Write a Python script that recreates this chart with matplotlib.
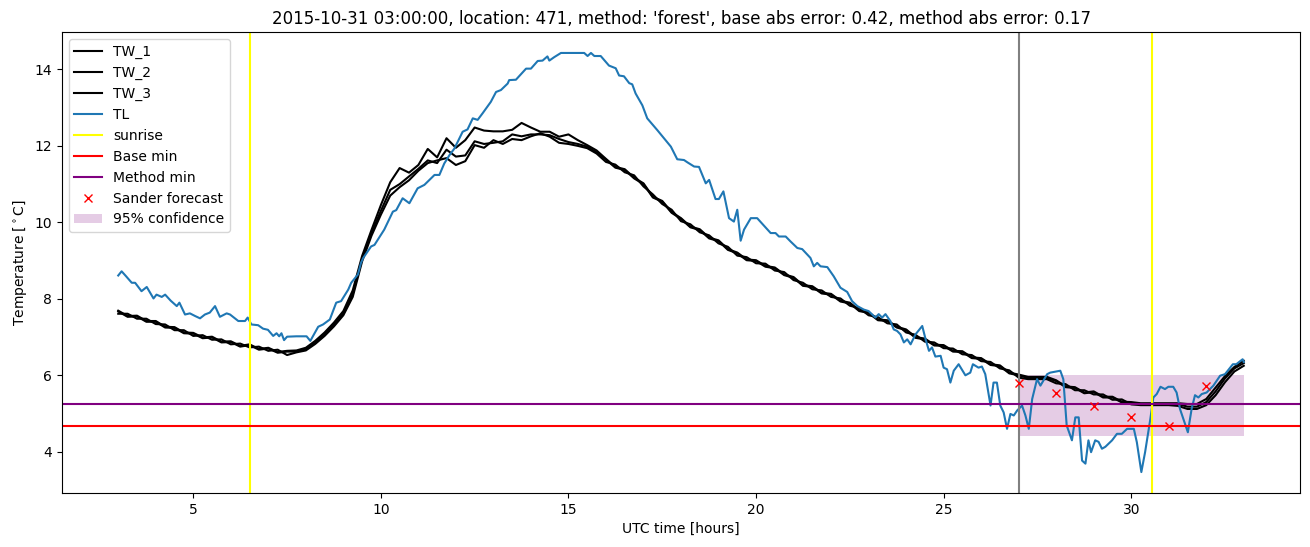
import numpy as np
import matplotlib
matplotlib.use("Agg")
import matplotlib.pyplot as plt
from matplotlib.patches import Patch

# ---- TL (air temperature) ----
tl_hours = [3.00, 3.09, 3.20, 3.36, 3.45, 3.62, 3.76, 3.94, 4.02, 4.16, 4.25, 4.40, 4.56, 4.63,
            4.78, 4.91, 5.05, 5.18, 5.31, 5.44, 5.58, 5.71, 5.89, 5.98, 6.20, 6.38, 6.45, 6.55,
            6.73, 6.86, 6.99, 7.13, 7.22, 7.29, 7.35, 7.42, 7.50, 7.75, 8.02, 8.12, 8.33, 8.46,
            8.64, 8.81, 8.94, 9.13, 9.21, 9.39, 9.47, 9.53, 9.74, 9.83, 10.09, 10.32, 10.41,
            10.58, 10.76, 10.98, 11.16, 11.43, 11.56, 11.69, 11.83, 11.96, 12.18, 12.31, 12.45,
            12.58, 12.71, 12.93, 13.07, 13.20, 13.38, 13.42, 13.60, 13.87, 14.00, 14.18, 14.31,
            14.44, 14.49, 14.62, 14.80, 15.42, 15.51, 15.60, 15.69, 15.86, 16.08, 16.26, 16.35,
            16.48, 16.62, 16.70, 16.79, 16.97, 17.10, 17.37, 17.73, 17.90, 18.08, 18.17, 18.35,
            18.48, 18.66, 18.75, 18.92, 19.01, 19.13, 19.28, 19.41, 19.50, 19.59, 19.68, 19.86,
            20.03, 20.39, 20.52, 20.61, 20.79, 20.92, 21.10, 21.23, 21.45, 21.54, 21.63, 21.72,
            21.90, 22.07, 22.25, 22.43, 22.56, 22.70, 22.87, 23.00, 23.18, 23.27, 23.36, 23.45,
            23.58, 23.67, 23.76, 23.85, 23.94, 24.03, 24.12, 24.25, 24.43, 24.52, 24.61, 24.69,
            24.78, 24.92, 25.00, 25.09, 25.18, 25.27, 25.40, 25.58, 25.71, 25.78, 25.93, 26.02,
            26.11, 26.25, 26.33, 26.42, 26.51, 26.60, 26.69, 26.78, 26.87, 26.96, 27.09, 27.18,
            27.27, 27.36, 27.49, 27.58, 27.76, 27.84, 28.11, 28.19, 28.24, 28.28, 28.42, 28.51,
            28.60, 28.69, 28.78, 28.86, 28.93, 29.04, 29.13, 29.22, 29.31, 29.49, 29.62, 29.75,
            29.89, 30.07, 30.15, 30.27, 30.37, 30.51, 30.59, 30.68, 30.78, 30.90, 30.99, 31.12,
            31.21, 31.30, 31.39, 31.51, 31.61, 31.70, 31.79, 31.88, 32.01, 32.19, 32.37, 32.50,
            32.71, 32.80, 32.97, 33.00]
tl_values = [8.61, 8.72, 8.60, 8.42, 8.42, 8.20, 8.31, 8.01, 8.11, 8.05, 8.11, 7.95, 7.81, 7.90,
             7.59, 7.62, 7.55, 7.49, 7.59, 7.64, 7.81, 7.53, 7.62, 7.59, 7.42, 7.42, 7.51, 7.33,
             7.31, 7.22, 7.19, 7.03, 7.10, 7.02, 7.10, 6.92, 7.01, 7.02, 7.02, 6.90, 7.27, 7.33,
             7.46, 7.90, 7.94, 8.24, 8.42, 8.64, 8.94, 9.07, 9.37, 9.41, 9.81, 10.28, 10.32,
             10.63, 10.50, 10.89, 10.98, 11.24, 11.24, 11.54, 11.76, 11.93, 12.37, 12.43, 12.72,
             12.68, 12.85, 13.15, 13.41, 13.46, 13.63, 13.72, 13.73, 14.02, 14.02, 14.22, 14.23,
             14.34, 14.23, 14.32, 14.43, 14.43, 14.35, 14.43, 14.35, 14.35, 14.10, 14.03, 13.84,
             13.82, 13.64, 13.61, 13.37, 13.06, 12.72, 12.41, 11.98, 11.65, 11.63, 11.57, 11.46,
             11.45, 11.02, 11.11, 10.61, 10.61, 10.81, 10.11, 10.02, 10.33, 9.52, 9.81, 10.11,
             10.11, 9.72, 9.72, 9.63, 9.63, 9.50, 9.33, 9.30, 9.07, 8.85, 8.94, 8.85,
             8.83, 8.59, 8.29, 8.18, 7.94, 7.81, 7.72, 7.68, 7.51, 7.60, 7.51, 7.60,
             7.42, 7.20, 7.16, 7.07, 6.86, 6.94, 6.81, 7.07, 7.29, 6.94, 6.64, 6.73,
             6.49, 6.51, 6.20, 6.16, 5.81, 6.12, 6.29, 6.00, 6.07, 6.29, 6.20, 6.23,
             6.03, 5.21, 5.81, 5.81, 5.21, 5.03, 4.60, 4.99, 4.95, 5.08, 5.21, 4.95,
             4.60, 5.38, 5.90, 5.73, 6.03, 6.07, 6.12, 5.90, 5.21, 4.69, 4.30, 4.90,
             4.90, 3.77, 3.69, 4.30, 3.99, 4.30, 4.26, 4.08, 4.13, 4.30, 4.47, 4.47,
             4.60, 4.60, 4.25, 3.47, 3.99, 4.86, 5.42, 5.51, 5.70, 5.64, 5.70, 5.70,
             5.55, 5.12, 4.86, 4.51, 5.12, 5.48, 5.42, 5.51, 5.55, 5.73, 5.99, 6.03,
             6.29, 6.29, 6.42, 6.35]

# ---- TW (road temperature sensors), 15-minute grid from 03:00 to 33:00 ----
tw_hours = np.arange(3.0, 33.001, 0.25)
tw_1 = [7.69, 7.55, 7.56, 7.42, 7.42, 7.27, 7.26, 7.12, 7.11, 6.99, 7.01, 6.88, 6.89, 6.77, 6.81,
        6.69, 6.72, 6.61, 6.64,
        6.65, 6.72, 6.90, 7.12, 7.38, 7.68, 8.22, 9.12, 9.80, 10.45, 11.05, 11.42, 11.30, 11.50,
        11.92, 11.70, 12.20, 11.95, 12.15, 12.48, 12.40, 12.38, 12.38, 12.42, 12.60, 12.48, 12.37,
        12.37, 12.24, 12.30, 12.15, 12.02, 11.88,
        11.66, 11.45, 11.39, 11.17, 11.02, 10.67, 10.56, 10.27, 10.11, 9.89, 9.82, 9.60, 9.53,
        9.30, 9.21, 9.03, 9.01, 8.86, 8.82, 8.64, 8.57, 8.36, 8.33, 8.16, 8.13, 7.95, 7.90, 7.70,
        7.65, 7.46, 7.44, 7.27, 7.20, 7.00, 6.96, 6.80, 6.79, 6.64, 6.63, 6.47, 6.45, 6.29, 6.26,
        6.07, 6.02,
        5.96, 5.96, 5.96, 5.87, 5.71, 5.69, 5.55, 5.58, 5.44, 5.44, 5.31, 5.30, 5.27, 5.27, 5.27,
        5.27, 5.27, 5.25, 5.25, 5.38, 5.68, 5.98, 6.22, 6.38]
tw_2 = [7.67, 7.53, 7.54, 7.40, 7.40, 7.25, 7.24, 7.10, 7.09, 6.97, 6.99, 6.86, 6.87, 6.75, 6.79,
        6.67, 6.70, 6.59, 6.62,
        6.62, 6.68, 6.85, 7.07, 7.33, 7.62, 8.12, 9.05, 9.72, 10.30, 10.85, 11.00, 11.20, 11.40,
        11.62, 11.55, 11.90, 11.72, 11.75, 12.12, 12.05, 12.08, 12.12, 12.30, 12.25, 12.30, 12.30,
        12.28, 12.18, 12.10, 12.05, 11.98, 11.83,
        11.64, 11.43, 11.37, 11.15, 11.00, 10.65, 10.54, 10.25, 10.09, 9.87, 9.80, 9.58, 9.51,
        9.28, 9.19, 9.01, 8.99, 8.84, 8.80, 8.62, 8.55, 8.34, 8.31, 8.14, 8.11, 7.93, 7.88, 7.68,
        7.63, 7.44, 7.42, 7.25, 7.18, 6.98, 6.94, 6.78, 6.77, 6.62, 6.61, 6.45, 6.43, 6.27, 6.24,
        6.05, 6.00,
        5.93, 5.93, 5.93, 5.85, 5.69, 5.67, 5.53, 5.56, 5.42, 5.42, 5.29, 5.28, 5.25, 5.25, 5.25,
        5.25, 5.25, 5.18, 5.18, 5.30, 5.58, 5.92, 6.18, 6.32]
tw_3 = [7.61, 7.61, 7.48, 7.48, 7.34, 7.33, 7.18, 7.18, 7.03, 7.05, 6.93, 6.94, 6.81, 6.83, 6.73,
        6.75, 6.64, 6.67, 6.53,
        6.60, 6.65, 6.82, 7.03, 7.28, 7.57, 8.05, 8.98, 9.65, 10.20, 10.70, 10.92, 11.10, 11.35,
        11.55, 11.62, 11.68, 11.50, 11.60, 12.02, 11.95, 12.15, 12.05, 12.18, 12.15, 12.25, 12.33,
        12.24, 12.08, 12.05, 12.00, 11.94, 11.80,
        11.58, 11.51, 11.31, 11.23, 10.94, 10.73, 10.48, 10.33, 10.03, 9.95, 9.74, 9.66, 9.45,
        9.36, 9.13, 9.09, 8.93, 8.92, 8.74, 8.70, 8.49, 8.42, 8.25, 8.22, 8.05, 8.01, 7.82, 7.76,
        7.57, 7.52, 7.36, 7.33, 7.12, 7.06, 6.88, 6.86, 6.71, 6.70, 6.55, 6.53, 6.37, 6.35, 6.18,
        6.13, 5.94,
        5.90, 5.90, 5.90, 5.79, 5.77, 5.61, 5.61, 5.50, 5.50, 5.36, 5.37, 5.24, 5.22, 5.22, 5.22,
        5.22, 5.20, 5.12, 5.12, 5.22, 5.48, 5.82, 6.10, 6.25]

# ---- reference markers ----
sunrise_hours = [6.5, 30.55]
forecast_start = 27.0
base_min = 4.68
method_min = 5.25
sander_hours = [27, 28, 29, 30, 31, 32]
sander_values = [5.80, 5.54, 5.20, 4.91, 4.68, 5.72]
conf_hours = [27.0, 33.0]
conf_low = [4.42, 4.42]
conf_high = [6.02, 6.02]

title = ("2015-10-31 03:00:00, location: 471, method: 'forest', "
         "base abs error: 0.42, method abs error: 0.17")

fig, ax = plt.subplots(figsize=(13.1, 5.47), dpi=100)
fig.subplots_adjust(left=0.0473, right=0.9924, top=0.9415, bottom=0.0987)

h1, = ax.plot(tw_hours, tw_1, color="black", label="TW_1")
h2, = ax.plot(tw_hours, tw_2, color="black", label="TW_2")
h3, = ax.plot(tw_hours, tw_3, color="black", label="TW_3")
h4, = ax.plot(tl_hours, tl_values, color="tab:blue", label="TL")
sun_handles = [ax.axvline(s, color="yellow") for s in sunrise_hours]
hs = sun_handles[0]
hs.set_label("sunrise")
ax.axvline(forecast_start, color="grey")
hb = ax.axhline(base_min, color="red", label="Base min")
hm = ax.axhline(method_min, color="purple", label="Method min")
hx, = ax.plot(sander_hours, sander_values, "x", color="red", label="Sander forecast")
ax.fill_between(conf_hours, conf_low, conf_high, color="purple", alpha=0.2, linewidth=0)
hc = Patch(facecolor="purple", alpha=0.2, label="95% confidence")

ax.legend(handles=[h1, h2, h3, h4, hs, hb, hm, hx, hc], loc="upper left")
ax.set_title(title)
ax.set_xlabel("UTC time [hours]")
ax.set_ylabel(r"Temperature [$^\circ$C]")

fig.savefig("out.png", dpi=100)
